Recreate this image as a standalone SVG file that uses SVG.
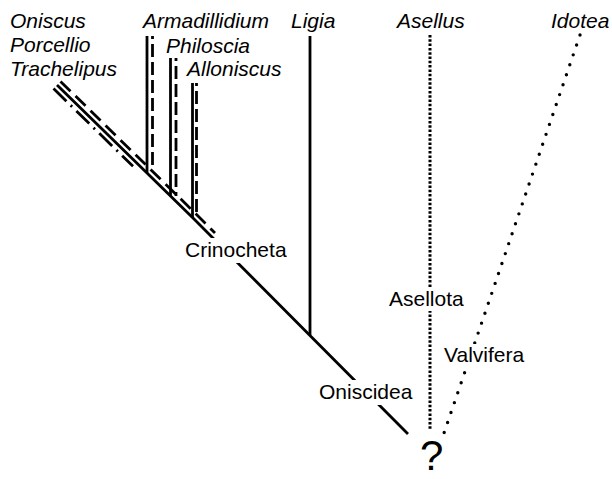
<svg xmlns="http://www.w3.org/2000/svg" width="612" height="479" viewBox="0 0 612 479">
<style>
.t{font-family:"Liberation Sans",Arial,sans-serif;font-size:21px;fill:#000}
.i{font-style:italic}
.q{font-size:42px}
.s{fill:none;stroke:#000;stroke-width:2.8}
.d{fill:none;stroke:#000;stroke-width:2.8;stroke-dasharray:14 7}
.vd{fill:none;stroke:#000;stroke-width:2.8;stroke-dasharray:13 5}
.dd{fill:none;stroke:#000;stroke-width:2.8;stroke-dasharray:18 6 2 6}
.sq{fill:none;stroke:#000;stroke-width:3;stroke-dasharray:2.5 1.8}
.rd{fill:none;stroke:#000;stroke-width:3.4;stroke-linecap:round;stroke-dasharray:0 10.5}
.bg{fill:#fff}
</style>
<rect width="612" height="479" fill="#fff"/>
<g id="connectors">
<path class="s" d="M57,85 L193,218 L408,434"/>
<path class="d" d="M60.5,81.4 L196.5,214.4 L215,233"/>
<path class="dd" d="M53.5,88.6 L133,166.3"/>
<line class="s" x1="147" y1="36" x2="147" y2="173"/>
<line class="vd" x1="152.5" y1="36" x2="152.5" y2="170" stroke-dashoffset="10"/>
<line class="s" x1="170.5" y1="58" x2="170.5" y2="196"/>
<line class="vd" x1="176" y1="58" x2="176" y2="196" stroke-dashoffset="10"/>
<line class="s" x1="192.5" y1="83" x2="192.5" y2="217"/>
<line class="vd" x1="196.5" y1="83" x2="196.5" y2="214" stroke-dashoffset="10"/>
<line class="s" x1="310" y1="36" x2="310" y2="335"/>
<line class="sq" x1="430" y1="35" x2="430" y2="430"/>
<line class="rd" x1="580" y1="35" x2="444" y2="433"/>
</g>
<g id="taxa">
<text class="t i" x="10" y="28">Oniscus</text>
<text class="t i" x="10" y="52">Porcellio</text>
<text class="t i" x="10" y="76">Trachelipus</text>
<text class="t i" x="143" y="28">Armadillidium</text>
<text class="t i" x="166" y="53">Philoscia</text>
<text class="t i" x="187" y="76">Alloniscus</text>
<text class="t i" x="291" y="28">Ligia</text>
<text class="t i" x="397" y="28">Asellus</text>
<text class="t i" x="551" y="28">Idotea</text>
</g>
<g id="crinocheta">
<rect class="bg" x="183" y="238" width="105" height="25"/>
<text class="t" x="185" y="257">Crinocheta</text>
</g>
<g id="asellota">
<rect class="bg" x="386" y="288" width="81" height="23"/>
<text class="t" x="389" y="306">Asellota</text>
</g>
<g id="valvifera">
<rect class="bg" x="441" y="344" width="89" height="23"/>
<text class="t" x="444" y="362">Valvifera</text>
</g>
<g id="oniscidea">
<rect class="bg" x="316" y="380" width="102" height="25"/>
<text class="t" x="319" y="399">Oniscidea</text>
</g>
<g id="root">
<text class="t q" x="420" y="470">?</text>
</g>
</svg>
